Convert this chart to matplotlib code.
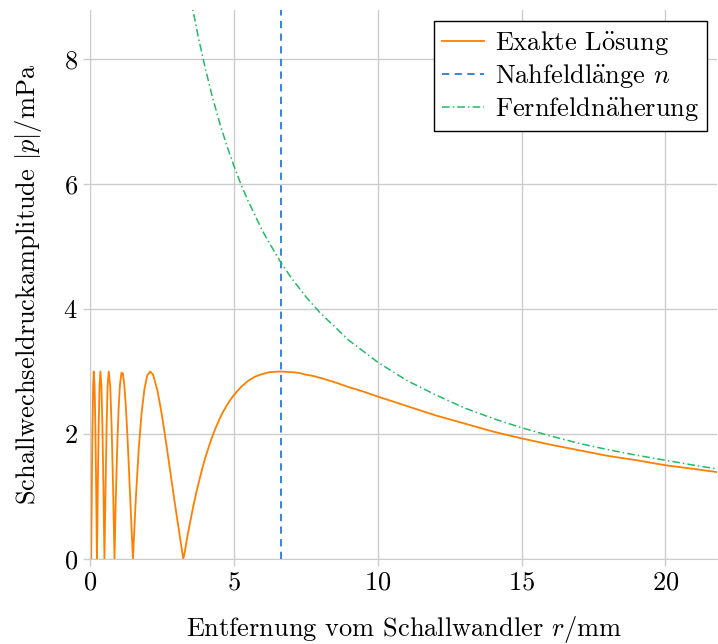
import numpy as np
import matplotlib
matplotlib.use('Agg')
import matplotlib.pyplot as plt

plt.rcParams['font.family'] = 'serif'
plt.rcParams['font.serif'] = ['cmr10']
plt.rcParams['mathtext.fontset'] = 'cm'
plt.rcParams['axes.formatter.use_mathtext'] = True

r_exact = [0.0, 0.05,
           0.0725, 0.095, 0.1175, 0.14, 0.1675, 0.195, 0.2225, 0.25,
           0.28, 0.31, 0.34, 0.37, 0.405, 0.44, 0.475, 0.51,
           0.55, 0.585, 0.62, 0.66, 0.71, 0.76, 0.81, 0.86,
           0.9, 0.95, 1.0, 1.05, 1.1, 1.15, 1.2, 1.25, 1.3, 1.35, 1.4, 1.45, 1.5,
           1.6, 1.7, 1.8, 1.9, 2.0, 2.1, 2.2, 2.35, 2.5, 2.65, 2.8, 2.95, 3.1, 3.25,
           3.3, 3.4, 3.5, 3.6, 3.7, 3.8, 3.9, 4.0, 4.125, 4.25, 4.375, 4.5, 4.625,
           4.75, 4.875, 5.0, 5.25, 5.5, 5.75, 6.0, 6.25, 6.63, 7.0, 7.25, 7.5, 7.75,
           8.0, 8.5, 9.0, 9.5, 10.0, 11.0, 12.0, 13.0, 14.0, 15.0, 16.0, 17.0, 18.0,
           19.0, 20.0, 21.0, 21.8]
p_exact = [0.3, 0.0,
           1.15, 2.12, 2.77, 3.0, 2.77, 2.12, 1.15, 0.0,
           1.15, 2.12, 2.77, 3.0, 2.77, 2.12, 1.15, 0.0,
           1.15, 2.12, 2.77, 3.0, 2.77, 2.12, 1.15, 0.0,
           0.88, 1.73, 2.38, 2.79, 2.98, 2.97, 2.79, 2.47, 2.05, 1.56, 1.04, 0.51, 0.0,
           0.96, 1.75, 2.33, 2.72, 2.94, 3.0, 2.95, 2.70, 2.32, 1.87, 1.39, 0.91, 0.45, 0.0,
           0.11, 0.38, 0.62, 0.85, 1.06, 1.25, 1.43, 1.60, 1.78, 1.95, 2.10, 2.23, 2.35,
           2.45, 2.54, 2.62, 2.75, 2.85, 2.92, 2.96, 2.99, 3.0, 2.99, 2.98, 2.95, 2.93,
           2.90, 2.83, 2.75, 2.68, 2.60, 2.45, 2.30, 2.17, 2.04, 1.93, 1.83, 1.74, 1.65,
           1.58, 1.50, 1.44, 1.39]

# Fernfeldnaeherung
r_far = [3.4, 3.5, 3.6, 3.75, 3.8, 4.0, 4.25, 4.5, 4.75, 5.0, 5.25, 5.5, 6.0, 6.5, 6.63,
         7.0, 7.5, 8.0, 9.0, 10.0, 11.0, 12.0, 13.0, 14.0, 15.0, 16.0, 17.0, 18.0,
         19.0, 20.0, 21.0, 21.8]
p_far = [9.26, 9.0, 8.75, 8.4, 8.29, 7.88, 7.41, 7.0, 6.63, 6.3, 6.0, 5.73, 5.25, 4.85, 4.75,
         4.5, 4.2, 3.94, 3.5, 3.15, 2.86, 2.63, 2.42, 2.25, 2.1, 1.97, 1.85, 1.75,
         1.66, 1.58, 1.5, 1.44]

# Nahfeldlaenge
n_near = 6.63

xticks = [0, 5, 10, 15, 20]
yticks = [0, 2, 4, 6, 8]

fig, ax = plt.subplots(figsize=(7.18, 6.44), dpi=100)
fig.subplots_adjust(left=0.125, right=0.999, top=0.984, bottom=0.132)

ax.plot(r_exact, p_exact, color='#ff7f00', lw=1.3, label=r'Exakte $\mathrm{L\ddot{o}sung}$')
ax.axvline(n_near, color='#2a7bd4', lw=1.3, ls=(0, (4, 3)), label=r'$\mathrm{Nahfeldl\ddot{a}nge}$ $n$')
ax.plot(r_far, p_far, color='#22bb66', lw=1.1, ls=(0, (5, 2, 1, 2)), label=r'$\mathrm{Fernfeldn\ddot{a}herung}$')

ax.set_xlim(0, 21.8)
ax.set_ylim(0, 8.78)
ax.set_xticks(xticks)
ax.set_yticks(yticks)
ax.grid(True, color='#cccccc', lw=1.0)
ax.set_axisbelow(True)
for s in ['top', 'right']:
    ax.spines[s].set_visible(False)
for s in ['left', 'bottom']:
    ax.spines[s].set_color('#cccccc')
ax.tick_params(colors='#cccccc', labelcolor='black', labelsize=19, length=5, width=1)

ax.set_xlabel(r'Entfernung vom Schallwandler $r/\mathrm{mm}$', fontsize=19, labelpad=14)
ax.set_ylabel(r'Schallwechseldruckamplitude $|p|/\mathrm{mPa}$', fontsize=19, labelpad=14)

leg = ax.legend(loc='upper right', fontsize=19, fancybox=False, framealpha=1,
                edgecolor='black', handlelength=1.6, borderpad=0.3, labelspacing=0.2,
                handletextpad=0.4, borderaxespad=0.4)
leg.get_frame().set_linewidth(1.0)

fig.savefig('out.png', dpi=100)
